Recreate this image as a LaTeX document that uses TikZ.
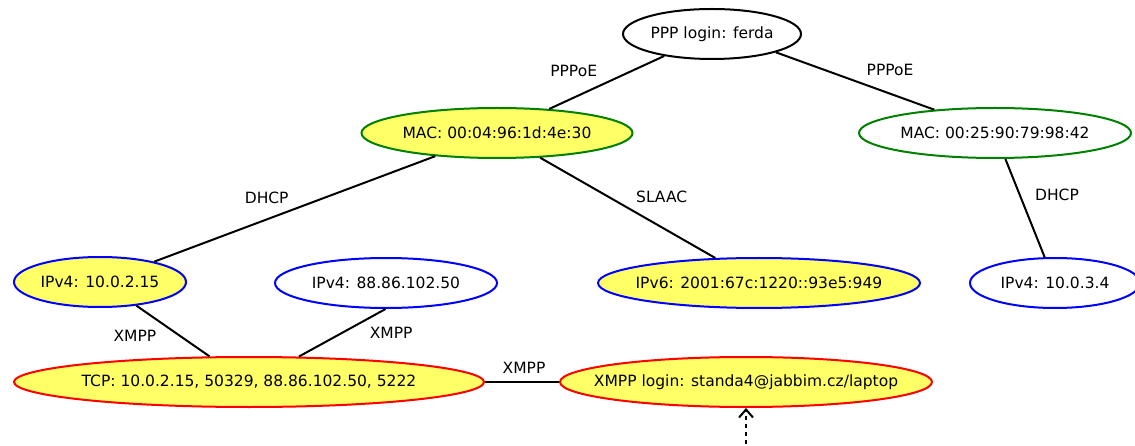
\documentclass[tikz,border=0pt]{standalone}
\usepackage{fontspec}
\setmainfont{DejaVu Sans}
\usetikzlibrary{arrows.meta,shapes.geometric}
\definecolor{idyellow}{HTML}{FFFF66}
\definecolor{idgreen}{HTML}{008000}
\definecolor{idblue}{HTML}{0000FF}
\definecolor{idred}{HTML}{FF0000}

\begin{document}
\begin{tikzpicture}[
  x=1pt, y=-1pt,
  font=\fontsize{15.5}{18}\selectfont,
  ident/.style={ellipse, draw, line width=2pt, inner xsep=-60pt, inner ysep=0pt,
             minimum height=50pt},
  seen/.style={fill=idyellow},
  lbl/.style={inner sep=0pt},
  conn/.style={line width=2pt},
  infer/.style={line width=2pt, dash pattern=on 4pt off 4pt,
                -{Straight Barb[length=8pt,width=14pt,line width=2pt]}}
]
  \useasboundingbox (0,0) rectangle (1135,446);

  \node[ident, minimum width=178pt] (ppp) at (712,34) {PPP login: ferda};
  \node[ident, seen, draw=idgreen, minimum width=271pt] (mac1) at (497,133) {MAC: 00:04:96:1d:4e:30};
  \node[ident, draw=idgreen, minimum width=272pt] (mac2) at (995,133) {MAC: 00:25:90:79:98:42};
  \node[ident, seen, draw=idblue, minimum width=172pt] (ip1) at (100,282) {IPv4: 10.0.2.15};
  \node[ident, draw=idblue, minimum width=222pt] (ip2) at (386,283) {IPv4: 88.86.102.50};
  \node[ident, seen, draw=idblue, minimum width=322pt] (ip6) at (759,283) {IPv6: 2001:67c:1220::93e5:949};
  \node[ident, draw=idblue, minimum width=170pt] (ip3) at (1055,283) {IPv4: 10.0.3.4};
  \node[ident, seen, draw=idred, minimum width=470pt] (tcp) at (249,382) {TCP: 10.0.2.15, 50329, 88.86.102.50, 5222};
  \node[ident, seen, draw=idred, minimum width=372pt] (xlogin) at (746,382) {XMPP login: standa4@jabbim.cz/laptop};
  \coordinate (src) at (746,460);

  \draw[conn] (ppp) -- node[lbl, xshift=-33pt, yshift=12pt] {PPPoE} (mac1);
  \draw[conn] (ppp.-16) -- node[lbl, xshift=35pt, yshift=11pt] {PPPoE} (mac2.159);
  \draw[conn] (mac1) -- node[lbl, xshift=-28pt, yshift=11pt] {DHCP} (ip1);
  \draw[conn] (mac1) -- node[lbl, xshift=34pt, yshift=11pt] {SLAAC} (ip6);
  \draw[conn] (mac2) -- node[lbl, xshift=32pt, yshift=13pt] {DHCP} (ip3);
  \draw[conn] (ip1.-33) -- node[lbl, xshift=-38pt, yshift=-5pt] {XMPP} (tcp.147);
  \draw[conn] (ip2.-91) -- node[lbl, xshift=49pt] {XMPP} (tcp.27);
  \draw[conn] (tcp) -- node[lbl, xshift=2pt, yshift=14pt] {XMPP} (xlogin);
  \draw[infer] (src) -- (xlogin);
\end{tikzpicture}
\end{document}
